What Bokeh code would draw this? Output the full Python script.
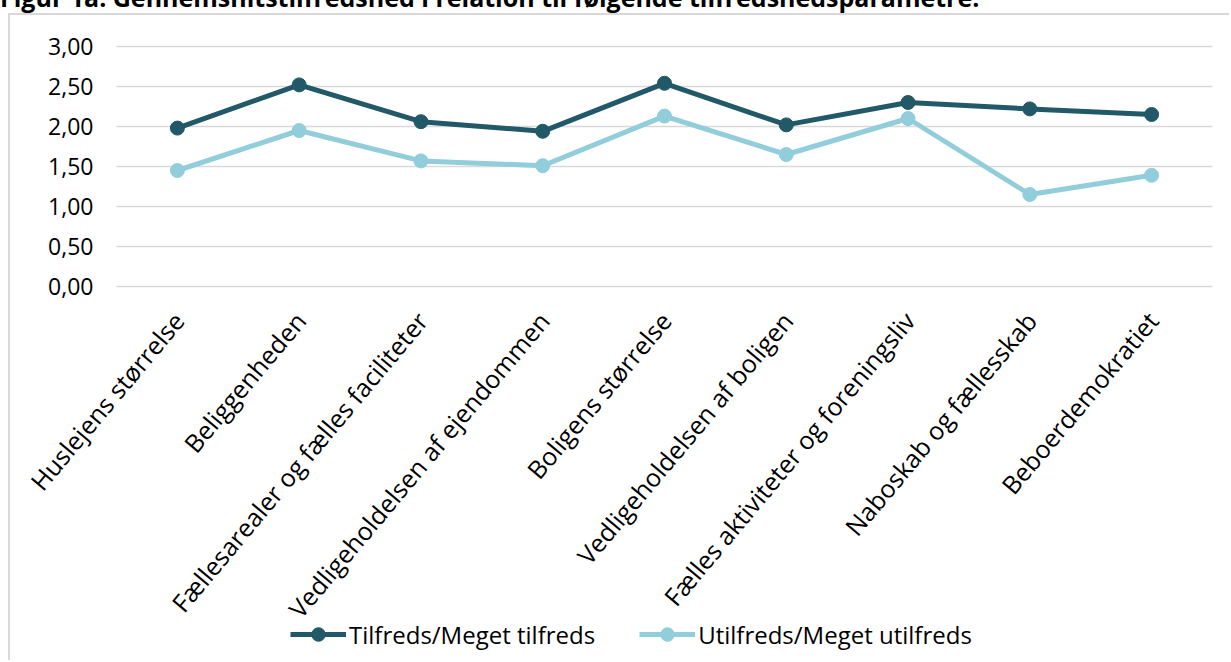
import math
from bokeh.plotting import figure
from bokeh.layouts import column
from bokeh.models import Range1d, Legend, LegendItem, Div, ColumnDataSource
from bokeh.core.properties import value
from bokeh.embed import file_html
from bokeh.resources import INLINE

title_text = "Figur 1a: Gennemsnitstilfredshed i relation til følgende tilfredshedsparametre:"
categories = [
    "Huslejens størrelse",
    "Beliggenheden",
    "Fællesarealer og fælles faciliteter",
    "Vedligeholdelsen af ejendommen",
    "Boligens størrelse",
    "Vedligeholdelsen af boligen",
    "Fælles aktiviteter og foreningsliv",
    "Naboskab og fællesskab",
    "Beboerdemokratiet",
]
tilfreds = [1.98, 2.52, 2.06, 1.94, 2.54, 2.02, 2.30, 2.22, 2.15]
utilfreds = [1.45, 1.95, 1.57, 1.51, 2.13, 1.65, 2.10, 1.15, 1.39]
series_names = ["Tilfreds/Meget tilfreds", "Utilfreds/Meget utilfreds"]
y_ticks = [0.0, 0.5, 1.0, 1.5, 2.0, 2.5, 3.0]
y_tick_labels = ["0,00", "0,50", "1,00", "1,50", "2,00", "2,50", "3,00"]

DARK = "#215968"
LIGHT = "#92cddc"
GRID = "#d9d9d9"
FONT = "Open Sans"

# ---- geometry (pixels inside the bordered chart area) ----
W, H = 1221, 647
PLOT_X0, PLOT_W = 106, 1096      # horizontal band holding the categories
ZERO_Y, PX_PER_UNIT = 271, 80    # pixel row of value 0, pixels per unit
n = len(categories)
cat_w = PLOT_W / n
x_range = Range1d(-PLOT_X0 / cat_w, (W - PLOT_X0) / cat_w)
y_range = Range1d(-(H - ZERO_Y) / PX_PER_UNIT, ZERO_Y / PX_PER_UNIT)
xpos = [i + 0.5 for i in range(n)]   # category centres on the scale

# heading: only its lower part is visible at the top edge
heading = Div(
    text=('<div style="margin-top:-22px;position:relative;top:-5px;'
          'line-height:28px;white-space:nowrap;'
          f'font-family:\'{FONT}\';font-weight:bold;font-size:25px;color:#000">'
          f'{title_text}</div>'),
    width=1231, height=13, margin=0, styles={"overflow": "hidden"})

p = figure(x_range=x_range, y_range=y_range, width=W, height=H,
           min_border=0, x_axis_location=None, y_axis_location=None,
           output_backend="svg", toolbar_location=None, margin=0,
           styles={"margin-left": "8px",
                   "border-left": f"2px solid {GRID}",
                   "border-top": f"2px solid {GRID}"})
p.outline_line_color = None
p.background_fill_color = "white"
p.border_fill_color = "white"
p.grid.visible = False

# value gridlines across the category band
p.segment(x0=[0] * len(y_ticks), x1=[n] * len(y_ticks), y0=y_ticks, y1=y_ticks,
          line_color=GRID, line_width=1.5)

# value tick labels
p.text(x=[0] * len(y_ticks), y=y_ticks, text=y_tick_labels,
       x_offset=-23, text_align="right", text_baseline="middle",
       text_color="#000000", text_font=value(FONT), text_font_size="23px")

# category labels, rotated, hanging below the 0 line
cat_src = ColumnDataSource(dict(x=xpos, y=[y_ticks[0]] * n, text=categories))
p.text(x="x", y="y", text="text", source=cat_src,
       angle=math.radians(50), text_align="right", text_baseline="middle",
       x_offset=1, y_offset=29, text_color="#000000",
       text_font=value(FONT), text_font_size="25px")

# series
l1 = p.line(xpos, tilfreds, line_color=DARK, line_width=5)
c1 = p.scatter(xpos, tilfreds, size=14, fill_color=DARK, line_color=DARK)
l2 = p.line(xpos, utilfreds, line_color=LIGHT, line_width=5)
c2 = p.scatter(xpos, utilfreds, size=14, fill_color=LIGHT, line_color=LIGHT)

legend = Legend(items=[LegendItem(label=series_names[0], renderers=[l1, c1]),
                       LegendItem(label=series_names[1], renderers=[l2, c2])],
                orientation="horizontal", location=(280, 11),
                glyph_width=56, glyph_height=34, label_standoff=3, spacing=44,
                padding=0, margin=0, border_line_color=None,
                background_fill_alpha=0,
                label_text_font=FONT,
                label_text_font_size="24px", label_text_color="#000000")
p.add_layout(legend, "center")

layout = column(heading, p, spacing=0)
open("out.html", "w").write(file_html(layout, INLINE))
